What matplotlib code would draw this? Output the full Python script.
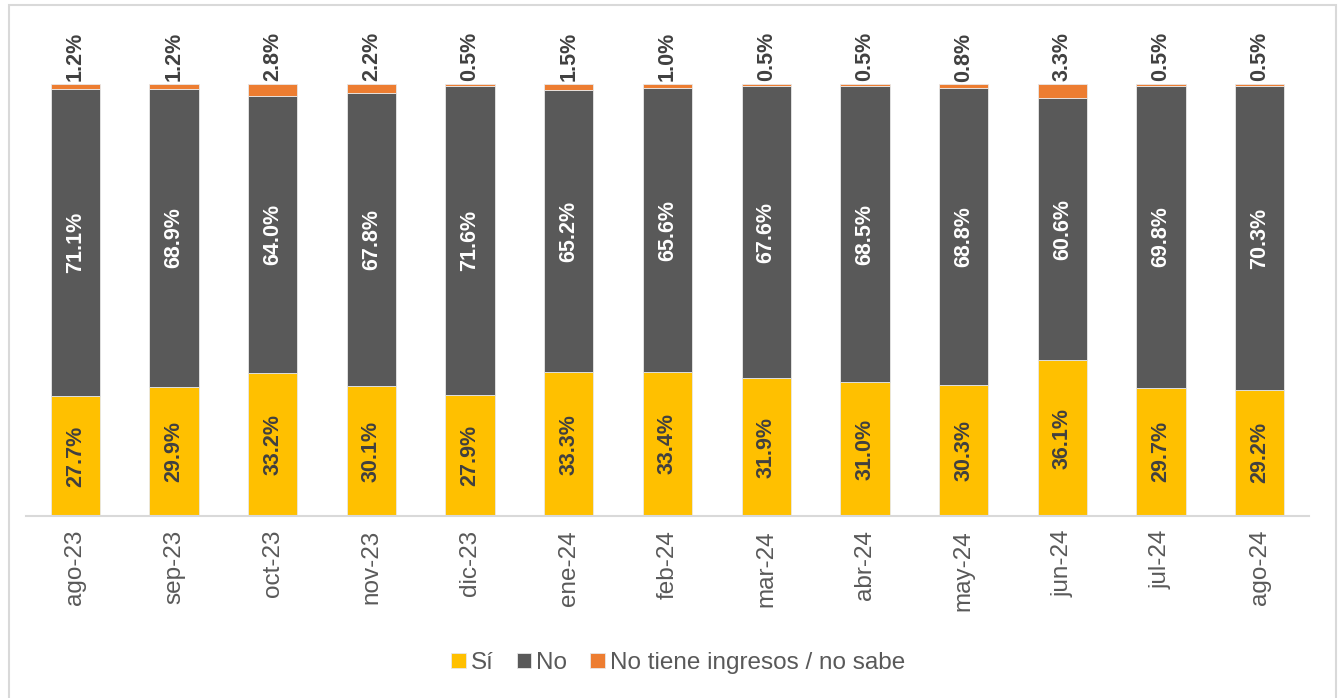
import matplotlib
matplotlib.use("Agg")
import matplotlib.pyplot as plt
from matplotlib.patches import Rectangle
import numpy as np

plt.rcParams['font.family'] = ['Liberation Sans', 'DejaVu Sans']

months = ["ago-23", "sep-23", "oct-23", "nov-23", "dic-23", "ene-24", "feb-24",
          "mar-24", "abr-24", "may-24", "jun-24", "jul-24", "ago-24"]
si = [27.7, 29.9, 33.2, 30.1, 27.9, 33.3, 33.4, 31.9, 31.0, 30.3, 36.1, 29.7, 29.2]
no = [71.1, 68.9, 64.0, 67.8, 71.6, 65.2, 65.6, 67.6, 68.5, 68.8, 60.6, 69.8, 70.3]
ns = [1.2, 1.2, 2.8, 2.2, 0.5, 1.5, 1.0, 0.5, 0.5, 0.8, 3.3, 0.5, 0.5]
series_names = ["Sí", "No", "No tiene ingresos / no sabe"]
colors = ["#FFC000", "#595959", "#ED7D31"]

W, H = 1338, 698
fig = plt.figure(figsize=(W / 100, H / 100), dpi=100)

# outer frame
fig.patches.append(Rectangle((9 / W, -0.01), (1336 - 9) / W, (H - 5) / H + 0.01,
                             transform=fig.transFigure, fill=False,
                             edgecolor="#D9D9D9", linewidth=1.5))

ax_left, ax_right = 26, 1309
ax_bottom, ax_top = 516, 20
ax = fig.add_axes([ax_left / W, (H - ax_bottom) / H,
                   (ax_right - ax_left) / W, (ax_bottom - ax_top) / H])

x = np.arange(len(months))
w = 0.5
si_a, no_a, ns_a = np.array(si), np.array(no), np.array(ns)
ax.bar(x, si_a, w, color=colors[0], edgecolor="#E8E8E8", linewidth=0.6, label=series_names[0])
ax.bar(x, no_a, w, bottom=si_a, color=colors[1], edgecolor="#E8E8E8", linewidth=0.6, label=series_names[1])
ax.bar(x, ns_a, w, bottom=si_a + no_a, color=colors[2], edgecolor="#E8E8E8", linewidth=0.6, label=series_names[2])

fs = 15.5
for i in range(len(months)):
    ax.text(x[i], si_a[i] / 2, f"{si[i]:.1f}%", rotation=90, ha="center", va="center",
            fontsize=fs, fontweight="bold", color="#404040")
    ax.text(x[i], si_a[i] + no_a[i] / 2, f"{no[i]:.1f}%", rotation=90, ha="center", va="center",
            fontsize=fs, fontweight="bold", color="white")
    ax.text(x[i], si_a[i] + no_a[i] + ns_a[i] + 0.6, f"{ns[i]:.1f}%", rotation=90, ha="center",
            va="bottom", fontsize=fs, fontweight="bold", color="#404040")

ax.set_xlim(-0.5, len(months) - 0.5)
ax.set_ylim(0, 100 * (ax_bottom - ax_top) / (ax_bottom - 84))
ax.set_xticks(x)
ax.set_xticklabels(months, rotation=90, fontsize=17.5, color="#595959")
ax.tick_params(axis="x", length=0, pad=10)
ax.set_yticks([])
for s in ["left", "right", "top"]:
    ax.spines[s].set_visible(False)
ax.spines["bottom"].set_color("#D9D9D9")
ax.spines["bottom"].set_linewidth(1.5)

leg = fig.legend(loc="center", bbox_to_anchor=(678 / W, (H - 663) / H), ncol=3, frameon=False,
                 fontsize=17.5, handlelength=0.6, handleheight=0.6, handletextpad=0.2,
                 columnspacing=0.95, labelcolor="#595959")

fig.savefig("out.png", dpi=100)
